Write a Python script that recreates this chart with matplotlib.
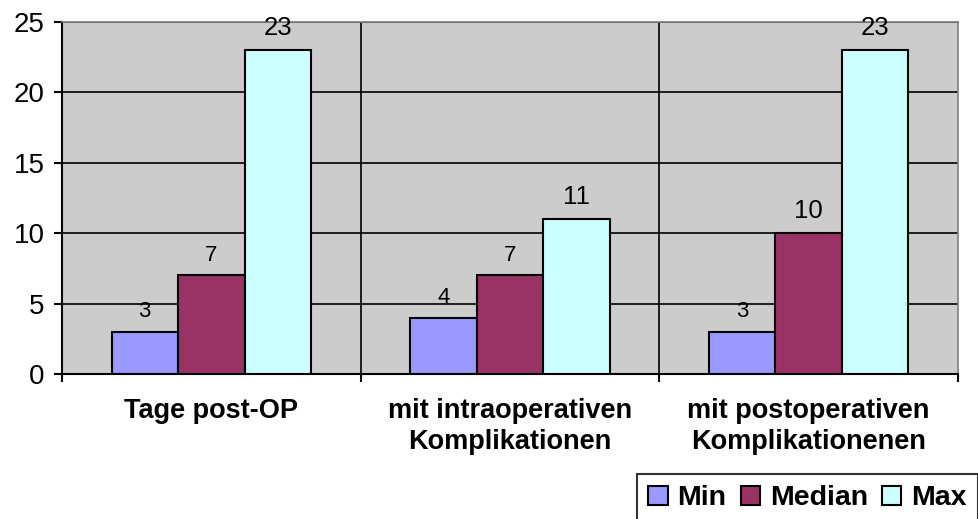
import matplotlib as mpl
import matplotlib.pyplot as plt
import numpy as np

categories = ["Tage post-OP",
              "mit intraoperativen\nKomplikationen",
              "mit postoperativen\nKomplikationenen"]
series = ["Min", "Median", "Max"]
min_vals = [3, 4, 3]
median_vals = [7, 7, 10]
max_vals = [23, 11, 23]
colors = ["#9999FF", "#993366", "#CCFFFF"]


def main():
    mpl.rcParams["font.family"] = ["Liberation Sans", "DejaVu Sans"]

    fig = plt.figure(figsize=(9.79, 5.19), dpi=100)
    ax = fig.add_axes([0.0633, 0.2794, 0.9152, 0.6782])
    ax.set_facecolor("#CCCCCC")

    x = np.arange(len(categories))
    w = 0.2227
    for i, (name, vals) in enumerate(zip(series, [min_vals, median_vals, max_vals])):
        pos = x + (i - 1) * w
        ax.bar(pos, vals, width=w, color=colors[i], edgecolor="black",
               linewidth=1.5, label=name, zorder=3)
        for px, v in zip(pos, vals):
            # two-digit labels look larger in the original
            fs = 18.5 if v >= 10 else 16
            ax.annotate(str(v), (px, v), xytext=(0, 7), textcoords="offset points",
                        ha="center", va="bottom", fontsize=fs)

    ax.set_xlim(-0.5, 2.5)
    ax.set_ylim(0, 25)
    ax.set_yticks(np.arange(0, 26, 5))
    ax.yaxis.grid(True, color="black", linewidth=1.2, zorder=1)
    for b in [0.5, 1.5]:
        ax.axvline(b, color="black", linewidth=1.2, zorder=1)

    ax.set_xticks(x)
    ax.set_xticklabels(categories, fontweight="bold", fontsize=19.5,
                       linespacing=1.25)
    ax.set_xticks([-0.5, 0.5, 1.5, 2.5], minor=True)
    ax.tick_params(axis="x", which="major", length=0, pad=17)
    ax.tick_params(axis="x", which="minor", length=6, width=1.5, direction="out")
    ax.tick_params(axis="y", length=6, width=1.5, direction="out", labelsize=20, pad=6.5)

    for s in ["top", "right"]:
        ax.spines[s].set_color("#808080")
        ax.spines[s].set_linewidth(1.2)
    for s in ["left", "bottom"]:
        ax.spines[s].set_color("black")
        ax.spines[s].set_linewidth(1.5)

    leg = fig.legend(loc="upper left", bbox_to_anchor=(0.6507, 0.0867), ncol=3,
                     prop={"weight": "bold", "size": 20.5}, frameon=True,
                     fancybox=False, handlelength=0.67, handleheight=0.67,
                     handletextpad=0.35, columnspacing=0.5, borderpad=0.4,
                     borderaxespad=0)
    leg.get_frame().set_edgecolor("black")
    leg.get_frame().set_linewidth(1.5)

    fig.savefig("out.png", dpi=100)


if __name__ == "__main__":
    main()
